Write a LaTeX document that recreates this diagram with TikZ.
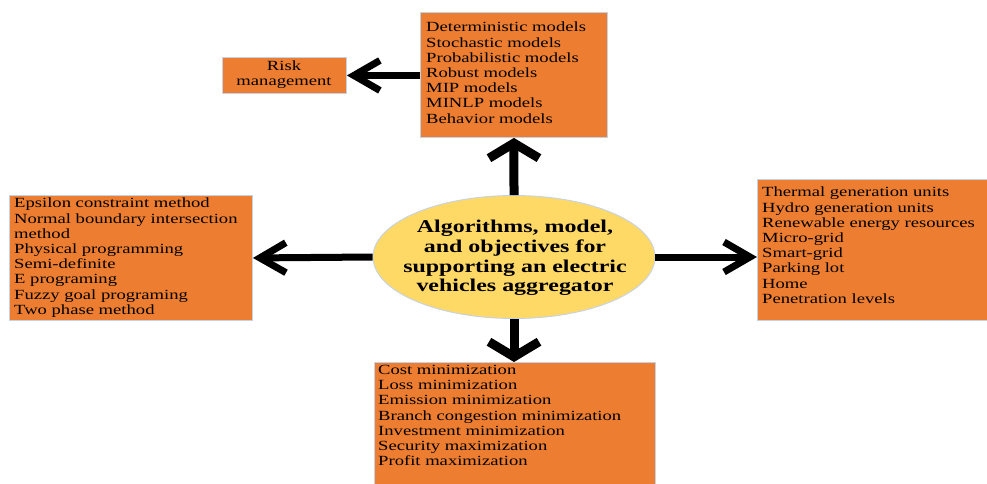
\documentclass[tikz,border=0pt]{standalone}
\usepackage{fontspec}
\setmainfont{Liberation Serif}[FakeStretch=1.33]
\usetikzlibrary{arrows.meta,shapes.geometric}
\definecolor{boxorange}{HTML}{ED7D31}
\definecolor{ellyellow}{HTML}{FFD966}
\definecolor{edgeblue}{HTML}{C3D2E6}
\begin{document}
\begin{tikzpicture}[x=1pt,y=-1pt,
  box/.style={draw=edgeblue, line width=0.9pt, fill=boxorange, inner sep=0pt, anchor=north west},
  txt/.style={font=\fontsize{14}{15.2}\selectfont, align=left, inner sep=0pt, anchor=north west},
  harrow/.style={line width=7pt, -{Straight Barb[length=26pt,width=30pt]}},
  varrow/.style={line width=9pt, -{Straight Barb[length=15pt,width=50pt]}}]

\useasboundingbox[fill=white] (0,0) rectangle (987,483);

% boxes
\node[box, minimum width=187pt, minimum height=125pt] (models) at (420,12) {};
\node[box, minimum width=124pt, minimum height=36pt] (risk) at (222,57) {};
\node[box, minimum width=243pt, minimum height=125pt] (methods) at (9,195) {};
\node[box, minimum width=240pt, minimum height=141pt] (grid) at (757,179) {};
\node[box, minimum width=281pt, minimum height=130pt] (objectives) at (374,362) {};

% centre ellipse
\node[draw=edgeblue, line width=0.9pt, fill=ellyellow, ellipse, inner sep=0pt,
      minimum width=282pt, minimum height=123pt] (core) at (514,257) {};
\node[font=\bfseries\fontsize{18}{19.7}\selectfont, align=center, inner sep=0pt] (coretxt) at (515,258)
  {Algorithms, model,\\and objectives for\\supporting an electric\\vehicles aggregator};

% texts
\node[txt] (modelstxt) at (426,22) {Deterministic models\\Stochastic models\\Probabilistic models\\Robust models\\MIP models\\MINLP models\\Behavior models};
\node[txt, anchor=center, align=center] (risktxt) at (284,75) {Risk\\management};
\node[txt] (methodstxt) at (14,198) {Epsilon constraint method\\Normal boundary intersection\\method\\Physical programming\\Semi-definite\\E programing\\Fuzzy goal programing\\Two phase method};
\node[txt] (gridtxt) at (762,187) {Thermal generation units\\Hydro generation units\\Renewable energy resources\\Micro-grid\\Smart-grid\\Parking lot\\Home\\Penetration levels};
\node[txt] (objtxt) at (378,365) {Cost minimization\\Loss minimization\\Emission minimization\\Branch congestion minimization\\Investment minimization\\Security maximization\\Profit maximization};

% connectors
\draw[varrow] (core.north) -- (models.south);
\draw[harrow] (models.west |- risk.east) -- (risk.east);
\draw[harrow] (core.west) -- (methods.east);
\draw[harrow] (core.east) -- (grid.west |- core.east);
\draw[varrow] (core.south) -- (objectives.north -| core.south);
\end{tikzpicture}
\end{document}
